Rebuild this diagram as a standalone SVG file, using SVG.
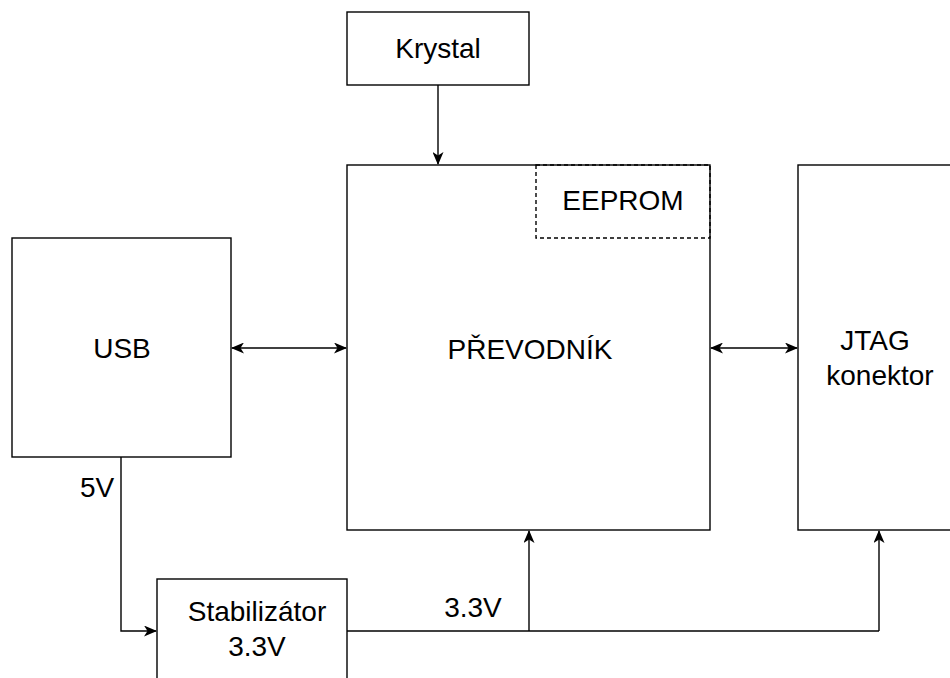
<svg xmlns="http://www.w3.org/2000/svg" width="950" height="678" viewBox="0 0 950 678">
<style>
.box{fill:#fff;stroke:#000;stroke-width:1.4}
.dash{fill:none;stroke:#000;stroke-width:1.4;stroke-dasharray:4 3}
.t{font-family:"Liberation Sans",Arial,sans-serif;font-size:28px;fill:#000;text-anchor:middle}
.c{fill:none;stroke:#000;stroke-width:1.4}
</style>
<defs>
<marker id="ah" markerWidth="13" markerHeight="11" viewBox="0 0 13 11" refX="12" refY="5.5" orient="auto-start-reverse" markerUnits="userSpaceOnUse">
<path d="M0,0 L13,5.5 L0,11 L3.5,5.5 Z" fill="#000"/>
</marker>
</defs>
<rect width="950" height="678" fill="#fff"/>
<g id="krystal"><rect class="box" x="347" y="12" width="182" height="73"/><text class="t" x="438" y="58">Krystal</text></g>
<g id="prevodnik"><rect class="box" x="347" y="165" width="363" height="365"/><text class="t" x="530" y="359">PŘEVODNÍK</text></g>
<g id="eeprom"><rect class="dash" x="536" y="165" width="174" height="73"/><text class="t" x="623" y="210">EEPROM</text></g>
<g id="usb"><rect class="box" x="12" y="238" width="219" height="219"/><text class="t" x="122" y="358">USB</text></g>
<g id="jtag"><rect class="box" x="798" y="165" width="164" height="365"/><text class="t" x="875" y="350">JTAG</text><text class="t" x="880" y="385">konektor</text></g>
<g id="stabilizator"><rect class="box" x="157" y="579" width="190" height="120"/><text class="t" x="257" y="621">Stabilizátor</text><text class="t" x="257" y="656">3.3V</text></g>
<g id="connectors">
<line class="c" x1="438" y1="85" x2="438" y2="164" marker-end="url(#ah)"/>
<line class="c" x1="232" y1="348" x2="346" y2="348" marker-start="url(#ah)" marker-end="url(#ah)"/>
<line class="c" x1="711" y1="348" x2="797" y2="348" marker-start="url(#ah)" marker-end="url(#ah)"/>
<polyline class="c" points="121,457 121,631 156,631" marker-end="url(#ah)"/>
<line class="c" x1="347" y1="631" x2="879" y2="631"/>
<line class="c" x1="529" y1="631" x2="529" y2="531" marker-end="url(#ah)"/>
<line class="c" x1="879" y1="631" x2="879" y2="531" marker-end="url(#ah)"/>
<text class="t" x="97" y="497">5V</text>
<text class="t" x="473" y="617">3.3V</text>
</g>
</svg>
